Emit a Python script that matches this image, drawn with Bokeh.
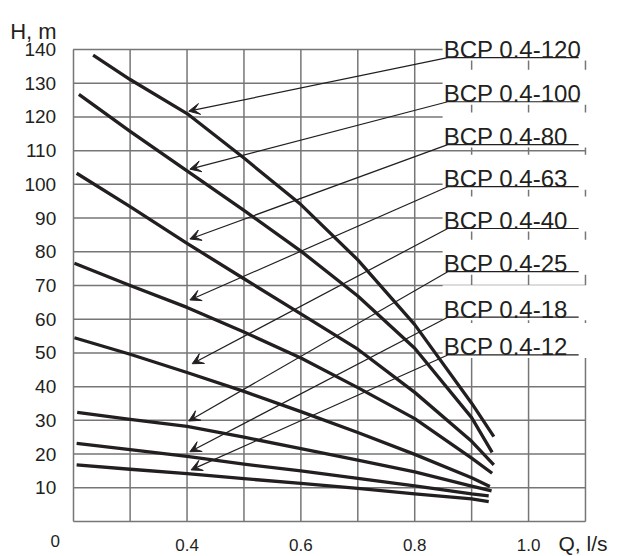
from bokeh.plotting import figure
from bokeh.models import (Range1d, FixedTicker, NumeralTickFormatter, Label,
                          Arrow, VeeHead, ColumnDataSource, LinearAxis)
from bokeh.embed import file_html
from bokeh.resources import INLINE

# ---------------- data ----------------
models = ["BCP 0.4-120", "BCP 0.4-100", "BCP 0.4-80", "BCP 0.4-63",
          "BCP 0.4-40", "BCP 0.4-25", "BCP 0.4-18", "BCP 0.4-12"]

q120 = [0.235, 0.3, 0.4, 0.5, 0.6, 0.7, 0.8, 0.9, 0.939]
h120 = [138.3, 131.1, 121.0, 107.8, 94.0, 77.6, 58.4, 35.1, 25.2]
q100 = [0.21, 0.3, 0.4, 0.5, 0.6, 0.7, 0.8, 0.9, 0.936]
h100 = [126.7, 115.7, 104.0, 92.3, 80.2, 66.9, 51.4, 30.8, 20.5]
q80 = [0.206, 0.3, 0.4, 0.5, 0.6, 0.7, 0.8, 0.9, 0.939]
h80 = [103.3, 93.4, 82.5, 72.0, 61.6, 51.1, 38.3, 23.8, 16.8]
q63 = [0.202, 0.3, 0.4, 0.5, 0.6, 0.7, 0.8, 0.9, 0.936]
h63 = [76.6, 70.0, 63.5, 56.2, 48.5, 39.7, 30.5, 18.8, 14.3]
q40 = [0.202, 0.3, 0.4, 0.5, 0.6, 0.7, 0.8, 0.9, 0.932]
h40 = [54.5, 49.6, 44.2, 38.6, 32.6, 26.4, 19.9, 13.0, 10.4]
q25 = [0.207, 0.3, 0.4, 0.5, 0.6, 0.7, 0.8, 0.9, 0.935]
h25 = [32.4, 30.3, 28.2, 25.0, 21.6, 18.2, 14.7, 10.5, 9.1]
q18 = [0.206, 0.3, 0.4, 0.5, 0.6, 0.7, 0.8, 0.9, 0.930]
h18 = [23.2, 21.3, 19.3, 17.0, 15.0, 12.8, 10.6, 8.2, 7.6]
q12 = [0.206, 0.3, 0.4, 0.5, 0.6, 0.7, 0.8, 0.9, 0.930]
h12 = [16.8, 15.5, 14.2, 12.7, 11.3, 9.8, 8.2, 6.7, 5.9]

# arrow tips on the curves and the callout (underline) levels
arrow_q = [0.403, 0.405, 0.405, 0.405, 0.409, 0.403, 0.405, 0.407]
arrow_h = [121.7, 104.5, 83.8, 65.7, 46.8, 29.8, 20.7, 15.3]
callout_h = [137.6, 124.5, 111.8, 99.3, 86.9, 74.1, 60.6, 49.4]

x_ticks = [0.4, 0.6, 0.8, 1.0]
x_grid = [0.3, 0.4, 0.5, 0.6, 0.7, 0.8, 0.9, 1.0, 1.1]
y_ticks = [10, 20, 30, 40, 50, 60, 70, 80, 90, 100, 110, 120, 130, 140]
Q_MIN, Q_MAX = 0.2, 1.1
H_MIN, H_MAX = 0, 140

# ---------------- layout (pixels) ----------------
FONT = "Liberation Sans"
INK = "#231f20"
GRID = "#767676"
W, H = 621, 556
LEFT_PX, TOP_PX, BOTTOM_PX = 72.7, 49.0, 521.0     # grid box inside the canvas
PX_Q = 569.2                                         # pixels per l/s
PX_H = (BOTTOM_PX - TOP_PX) / (H_MAX - H_MIN)        # pixels per metre

X0 = Q_MIN - LEFT_PX / PX_Q
X1 = X0 + W / PX_Q
Y1 = H_MAX + TOP_PX / PX_H
Y0 = H_MIN - (H - BOTTOM_PX) / PX_H

p = figure(width=W, height=H, x_range=Range1d(X0, X1), y_range=Range1d(Y0, Y1),
           output_backend="svg", toolbar_location=None, min_border=0,
           x_axis_type=None, y_axis_type=None)
p.outline_line_color = None
p.background_fill_color = "white"
p.xgrid.visible = False
p.ygrid.visible = False

# grid lines (drawn from the tick arrays)
p.segment(x0=x_grid, y0=H_MIN, x1=x_grid, y1=H_MAX, line_color=GRID, line_width=1.5)
p.segment(x0=Q_MIN, y0=y_ticks, x1=Q_MAX, y1=y_ticks, line_color=GRID, line_width=1.5)

# axes placed at the grid corner
xaxis = LinearAxis(fixed_location=H_MIN, bounds=(Q_MIN, Q_MAX),
                   ticker=FixedTicker(ticks=x_ticks),
                   formatter=NumeralTickFormatter(format="0.0"))
yaxis = LinearAxis(fixed_location=Q_MIN, bounds=(H_MIN, H_MAX),
                   ticker=FixedTicker(ticks=y_ticks))
for ax in (xaxis, yaxis):
    ax.major_tick_line_color = None
    ax.minor_tick_line_color = None
    ax.axis_line_color = GRID
    ax.axis_line_width = 1.5
    ax.major_label_text_font = FONT
    ax.major_label_text_color = INK
xaxis.major_label_text_font_size = "17px"
xaxis.major_label_standoff = 11
yaxis.major_label_text_font_size = "19px"
yaxis.major_label_standoff = 11
p.add_layout(xaxis, "below")
p.add_layout(yaxis, "left")

# white backgrounds behind the callout labels
BOX_LEFT = 0.849
box_top = [h + 32 / PX_H for h in callout_h]
box_bot = [h - 3 / PX_H for h in callout_h]
p.quad(left=BOX_LEFT, right=X1, top=box_top, bottom=box_bot,
       fill_color="white", line_color=None)

# pump curves
xs = [q120, q100, q80, q63, q40, q25, q18, q12]
ys = [h120, h100, h80, h63, h40, h25, h18, h12]
p.multi_line(xs=xs, ys=ys, line_color=INK, line_width=3.3,
             line_join="round", line_cap="butt")

# underlines of the callouts
LEAD_X, END_X = 0.858, 1.088
p.segment(x0=LEAD_X, y0=callout_h, x1=END_X, y1=callout_h,
          line_color=INK, line_width=1.2)

# leader arrows
src = ColumnDataSource(dict(xs=[LEAD_X] * len(models), ys=callout_h,
                            xe=arrow_q, ye=arrow_h))
p.add_layout(Arrow(end=VeeHead(size=11, fill_color=INK, line_color=INK, line_width=1),
                   x_start="xs", y_start="ys", x_end="xe", y_end="ye",
                   source=src, line_color=INK, line_width=1.2))

# callout texts
for name, h in zip(models, callout_h):
    p.add_layout(Label(x=0.851, y=h, y_offset=8, text=name, text_font=FONT,
                       text_font_size="24px", text_color=INK,
                       text_baseline="alphabetic", text_align="left"))

# axis titles and origin label
p.add_layout(Label(x=Q_MIN, y=H_MAX, x_offset=-63, y_offset=18, text="H, m",
                   text_font=FONT, text_font_size="22px", text_color=INK,
                   text_baseline="alphabetic", text_align="left"))
p.add_layout(Label(x=Q_MAX, y=H_MIN, x_offset=-27, y_offset=-22, text="Q, l/s",
                   text_font=FONT, text_font_size="21px", text_color=INK,
                   text_baseline="alphabetic", text_align="left"))
p.add_layout(Label(x=Q_MIN, y=H_MIN, x_offset=-18, y_offset=-13, text="0",
                   text_font=FONT, text_font_size="17px", text_color=INK,
                   text_baseline="top", text_align="center"))

open("out.html", "w").write(file_html(p, INLINE))
